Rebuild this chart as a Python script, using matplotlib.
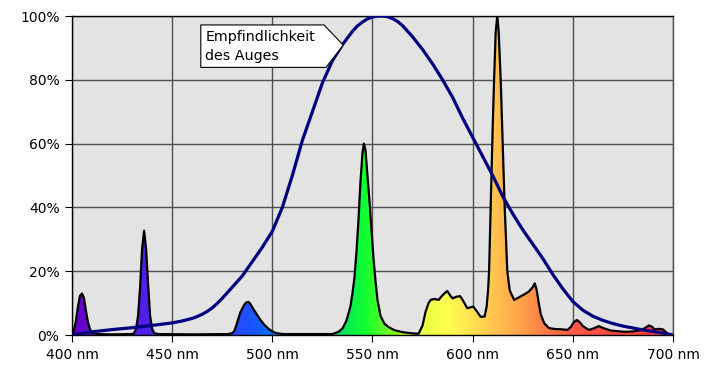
import numpy as np
import matplotlib
matplotlib.use("Agg")
import matplotlib.pyplot as plt
from matplotlib.colors import LinearSegmentedColormap
from matplotlib.patches import Polygon

plt.rcParams['font.family'] = ['DejaVu Sans']

# lamp spectrum (nm, % of max)
spec_nm = [400, 401, 402, 403, 404, 405, 406, 407, 408, 409, 410, 412, 420,
           430, 431, 432, 433, 434, 435, 436, 437, 438, 439, 440, 441, 443, 460,
           478, 480, 481, 482, 483, 484, 485, 486, 487, 488, 489, 490, 492, 494,
           496, 498, 500, 502, 505, 530, 533, 535, 537, 539, 540, 541, 542, 543,
           544, 545, 545.7, 546.5, 547.5, 548.5, 549.5, 550.5, 551.5, 552.5, 554,
           556, 558, 561, 565, 570, 573, 575, 576.5, 578, 579, 581, 583, 585,
           587.3, 589, 590, 592, 593.7, 595, 597.3, 599, 600.3, 602, 604, 606,
           607, 607.7, 608.2, 609, 610, 610.7, 611.5, 612.3, 613, 614, 615, 616,
           617.3, 618.5, 620.7, 623, 625.7, 628, 630, 631, 632, 633, 634, 635.7,
           638, 640.7, 644, 647.3, 649, 650.5, 652, 653.5, 655, 658, 660.5, 663,
           665, 669, 675.7, 680, 684, 686, 688, 689.5, 690.7, 693, 694.8, 696,
           697.3, 700]
spec_val = [0, 1.5, 4.5, 9, 12.3, 13, 11.5, 7.5, 4, 1.8, 0.7, 0.3, 0.2,
            0.3, 0.6, 2, 6, 15, 27, 32.7, 27, 16, 6, 2, 0.6, 0.3, 0.2,
            0.3, 0.6, 1.2, 3, 5, 7, 8.3, 9.5, 10.2, 10.4, 9.8, 8.7, 6.7, 4.8,
            3.2, 2, 1.1, 0.6, 0.3, 0.3, 1, 2, 4.5, 9, 13, 18, 26, 36,
            48, 57, 60, 58, 50, 42, 33, 24, 17, 11, 6,
            3.5, 2.5, 1.5, 0.9, 0.5, 0.4, 3, 7.3, 10, 11, 11.3, 11, 12.5,
            13.8, 12.2, 11.5, 12, 12.2, 11, 8.4, 8.7, 8.9, 7.5, 5.7, 5.8,
            9, 14, 20, 40, 65, 80, 95, 100, 95, 80, 60, 40,
            20, 14, 11, 11.8, 12.7, 13.6, 15, 16.2, 14, 10, 6.5, 3.7,
            2.2, 1.9, 1.8, 1.6, 2.5, 4, 4.7, 4, 2.8, 1.6, 2.1, 2.8,
            2.2, 1.4, 1, 1.1, 1.5, 2.2, 3, 2.6, 1.8, 1.9, 1.8, 1.2,
            0.5, 0]

# eye sensitivity (nm, %)
eye_nm = [400, 410, 420, 430, 440, 450, 455, 460, 462.5, 465, 467.5, 470,
          472.5, 475, 480, 485, 490, 495, 500, 505, 510, 515, 520, 525, 530,
          535, 540, 542.5, 545, 547.5, 550, 552.5, 555, 557.5, 560, 562.5,
          565, 570, 575, 580, 585, 590, 595, 600, 605, 610, 615, 620, 625,
          630, 635, 640, 645, 650, 655, 660, 665, 670, 675, 680, 685, 690,
          695, 700]
eye_val = [0, 1, 1.7, 2.3, 3, 3.8, 4.4, 5.2, 5.8, 6.5, 7.4, 8.5,
           9.9, 11.5, 15, 18.5, 23, 27.5, 32.5, 40, 50, 61, 70, 79, 86,
           91, 95.2, 96.9, 98.1, 99.1, 99.7, 99.95, 100, 99.8, 99.2, 98.3,
           97, 93.5, 89.5, 85, 80, 74.5, 68, 62, 56, 50, 43.5, 38, 33,
           28.5, 24, 19, 14.5, 10.5, 7.8, 5.9, 4.6, 3.6, 2.8, 2.2, 1.6, 1.1,
           0.6, 0]

xticks = [400, 450, 500, 550, 600, 650, 700]
yticks = [0, 20, 40, 60, 80, 100]

# colour stops for the wavelength gradient
stops = [(400, '#6a00c8'), (436, '#5020e8'), (470, '#3040ff'), (487, '#2050ff'),
         (500, '#0070ff'), (530, '#00d870'), (546, '#10ff30'), (560, '#80ff20'),
         (575, '#e8ff40'), (587, '#ffff50'), (600, '#ffe050'), (612, '#ffc050'),
         (625, '#ffa048'), (635, '#ff8048'), (650, '#ff5a4a'), (700, '#ff3838')]
cmap = LinearSegmentedColormap.from_list(
    'wl', [((w - 400) / 300, c) for w, c in stops])

fig = plt.figure(figsize=(7.19, 3.69), dpi=100)
ax = fig.add_axes([0.1001, 0.0921, 0.8359, 0.8645])
ax.set_facecolor('#e3e3e3')
ax.set_xlim(400, 700)
ax.set_ylim(0, 100)

# gradient fill clipped to the spectrum
grad = np.linspace(0, 1, 600).reshape(1, -1)
img = ax.imshow(grad, extent=[400, 700, 0, 100], aspect='auto', cmap=cmap,
                origin='lower', zorder=2)
poly = Polygon(np.column_stack([spec_nm + [700, 400], spec_val + [0, 0]]),
               closed=True, facecolor='none', edgecolor='none')
ax.add_patch(poly)
img.set_clip_path(poly)
ax.plot(spec_nm, spec_val, color='black', lw=1.6, zorder=3,
        solid_joinstyle='round')

ax.plot(eye_nm, eye_val, color='#000080', lw=2.3, zorder=4,
        solid_capstyle='butt', solid_joinstyle='round')

# callout
box = Polygon([[464.3, 97.2], [525.8, 97.2], [535.4, 90.9], [526.8, 83.9],
               [464.3, 83.9]], closed=True, facecolor='white',
              edgecolor='black', lw=0.8, zorder=5)
ax.add_patch(box)
ax.text(466.6, 90.5, 'Empfindlichkeit\ndes Auges', fontsize=10.3, va='center',
        ha='left', linespacing=1.45, zorder=6)

ax.set_xticks(xticks)
ax.set_xticklabels([f'{x} nm' for x in xticks])
ax.set_yticks(yticks)
ax.set_yticklabels([f'{y}%' for y in yticks])
ax.tick_params(axis='both', direction='out', length=5, width=0.8,
               labelsize=10, color='black', pad=4)
ax.grid(True, color='#505050', lw=1.0, zorder=1)
ax.set_axisbelow(True)
for s in ax.spines.values():
    s.set_color('black')
    s.set_linewidth(1.0)
ax.spines['right'].set_color('#505050')

fig.savefig('out.png', dpi=100)
